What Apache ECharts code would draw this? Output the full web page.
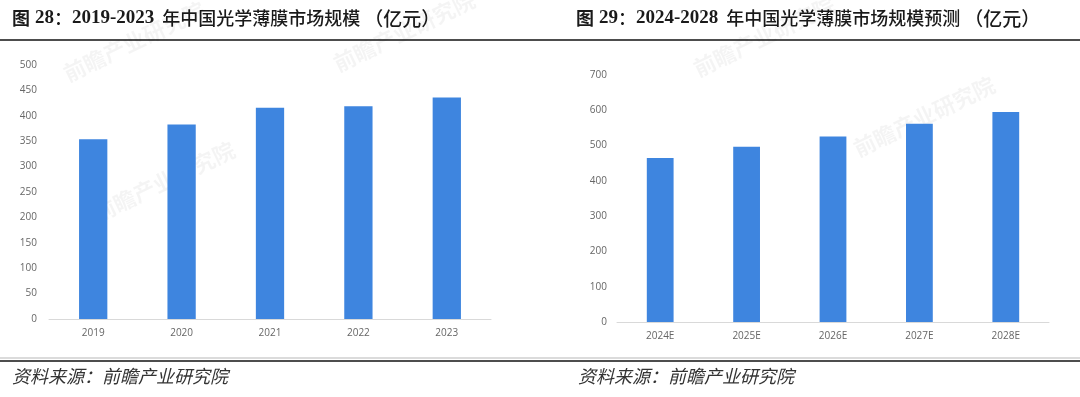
<!DOCTYPE html>
<html>
<head>
<meta charset="utf-8">
<script src="https://cdn.jsdelivr.net/npm/echarts@6/dist/echarts.min.js"></script>
<style>
  html, body { margin: 0; padding: 0; background: #fff; }
  #chart { width: 1080px; height: 397px; }
</style>
</head>
<body>
<div id="chart"></div>
<script>
// 图28 历史规模
let years_hist = ['2019', '2020', '2021', '2022', '2023'];
let size_hist = [354, 383, 416, 419, 436];
// 图29 预测规模
let years_fcst = ['2024E', '2025E', '2026E', '2027E', '2028E'];
let size_fcst = [465, 497, 526, 562, 595];

let source_text = '资料来源：前瞻产业研究院';

let Chart_main = echarts.init(document.getElementById('chart'));

let barColor = '#3e85df';
let labelStyle = { color: '#666', fontSize: 10, fontFamily: 'Open Sans, sans-serif' };

// 标题分段排版（数字用衬线体）
let titleRich = {
    h: { fontSize: 18, fontWeight: 'bold', fontFamily: 'Noto Sans CJK SC', fill: '#1a1a1a', padding: [0, 5, 0, 0] },
    n: { fontSize: 19, fontWeight: 'bold', fontFamily: 'Liberation Serif', fill: '#1a1a1a' },
    k: { fontSize: 18, fontWeight: 500, fontFamily: 'Noto Sans CJK SC', fill: '#1a1a1a' },
    c: { fontSize: 18, fontWeight: 500, fontFamily: 'Noto Sans CJK SC', fill: '#1a1a1a', padding: [0, 0, 0, 8] },
    p: { fontSize: 19, fontWeight: 500, fontFamily: 'Noto Sans CJK SC', fill: '#1a1a1a', padding: [0, 0, 0, 4] }
};

function title(num, range, body) {
    return '{h|图}{n|' + num + '}{k|：}{n|' + range + '}{c|' + body + '}{p|（亿元）}';
}

// 水印
function mark(x, y) {
    return {
        type: 'text', x: x, y: y, rotation: Math.PI / 7, z: 0,
        style: {
            text: '前瞻产业研究院', fontSize: 22, fontWeight: 'bold',
            fontFamily: 'Noto Sans CJK SC', fill: 'rgba(0,0,0,0.045)'
        }
    };
}

option = {
    animation: false,
    graphic: [
        {
            type: 'text', left: 12, top: 9,
            style: { text: title('28', '2019-2023', '年中国光学薄膜市场规模'), rich: titleRich }
        },
        {
            type: 'text', left: 576, top: 9,
            style: { text: title('29', '2024-2028', '年中国光学薄膜市场规模预测'), rich: titleRich }
        },
        { type: 'line', shape: { x1: 0, y1: 40, x2: 1080, y2: 40 }, style: { stroke: '#4d4d4d', lineWidth: 2 } },
        { type: 'line', shape: { x1: 0, y1: 358, x2: 1080, y2: 358 }, style: { stroke: '#cfcfcf', lineWidth: 1.5 } },
        { type: 'line', shape: { x1: 0, y1: 361, x2: 1080, y2: 361 }, style: { stroke: '#4d4d4d', lineWidth: 2 } },
        {
            type: 'text', left: 12, top: 367,
            style: { text: source_text, fontSize: 18, fontStyle: 'italic', fontFamily: 'Noto Sans CJK SC', fill: '#333' }
        },
        {
            type: 'text', left: 578, top: 367,
            style: { text: source_text, fontSize: 18, fontStyle: 'italic', fontFamily: 'Noto Sans CJK SC', fill: '#333' }
        },
        mark(60, 65), mark(330, 55), mark(90, 205), mark(690, 60), mark(850, 140)
    ],
    grid: [
        { left: 49, right: 589, top: 65, bottom: 78 },
        { left: 617, right: 31, top: 75, bottom: 75 }
    ],
    xAxis: [
        {
            type: 'category', gridIndex: 0, data: years_hist,
            axisLine: { lineStyle: { color: '#d9d9d9' } },
            axisTick: { show: false },
            axisLabel: Object.assign({ margin: 9 }, labelStyle)
        },
        {
            type: 'category', gridIndex: 1, data: years_fcst,
            axisLine: { lineStyle: { color: '#d9d9d9' } },
            axisTick: { show: false },
            axisLabel: Object.assign({ margin: 9 }, labelStyle)
        }
    ],
    yAxis: [
        {
            type: 'value', gridIndex: 0, min: 0, max: 500, interval: 50,
            splitLine: { show: false },
            axisLabel: Object.assign({ margin: 12 }, labelStyle)
        },
        {
            type: 'value', gridIndex: 1, min: 0, max: 700, interval: 100,
            splitLine: { show: false },
            axisLabel: Object.assign({ margin: 10 }, labelStyle)
        }
    ],
    series: [
        {
            name: '市场规模', type: 'bar', xAxisIndex: 0, yAxisIndex: 0,
            data: size_hist, barWidth: '32%',
            itemStyle: { color: barColor }
        },
        {
            name: '市场规模预测', type: 'bar', xAxisIndex: 1, yAxisIndex: 1,
            data: size_fcst, barWidth: '31%',
            itemStyle: { color: barColor }
        }
    ]
};

Chart_main.setOption(option);
</script>
</body>
</html>
